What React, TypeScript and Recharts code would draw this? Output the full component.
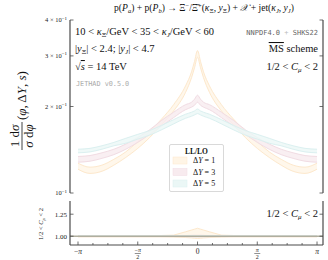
import React from "react";
import { ComposedChart, Area, XAxis, YAxis, ReferenceLine } from "recharts";

const SERIF = "'Liberation Serif', 'DejaVu Serif', serif";
const MONO = "'DejaVu Sans Mono', 'Liberation Mono', monospace";

// azimuthal angle, in units of pi
const phiOverPi = [-1, -0.9, -0.8, -0.7, -0.6, -0.5, -0.4, -0.3, -0.2, -0.1, -0.05, -0.025, 0, 0.025, 0.05, 0.1, 0.2, 0.3, 0.4, 0.5, 0.6, 0.7, 0.8, 0.9, 1];

// LL/LO bands (scale variation)
const dy1Low = [0.121, 0.117, 0.119, 0.125, 0.133, 0.143, 0.156, 0.173, 0.193, 0.224, 0.252, 0.273, 0.297, 0.273, 0.252, 0.224, 0.193, 0.173, 0.156, 0.143, 0.133, 0.125, 0.119, 0.117, 0.121];
const dy1High = [0.127, 0.123, 0.125, 0.131, 0.139, 0.151, 0.164, 0.181, 0.203, 0.236, 0.264, 0.287, 0.313, 0.287, 0.264, 0.236, 0.203, 0.181, 0.164, 0.151, 0.139, 0.131, 0.125, 0.123, 0.127];
const dy3Low = [0.128, 0.129, 0.132, 0.136, 0.142, 0.150, 0.160, 0.171, 0.183, 0.195, 0.199, 0.202, 0.207, 0.202, 0.199, 0.195, 0.183, 0.171, 0.160, 0.150, 0.142, 0.136, 0.132, 0.129, 0.128];
const dy3High = [0.134, 0.135, 0.138, 0.142, 0.148, 0.156, 0.166, 0.179, 0.191, 0.203, 0.207, 0.212, 0.219, 0.212, 0.207, 0.203, 0.191, 0.179, 0.166, 0.156, 0.148, 0.142, 0.138, 0.135, 0.134];
const dy5Low = [0.138, 0.139, 0.142, 0.146, 0.149, 0.154, 0.159, 0.166, 0.174, 0.182, 0.185, 0.187, 0.189, 0.187, 0.185, 0.182, 0.174, 0.166, 0.159, 0.154, 0.149, 0.146, 0.142, 0.139, 0.138];
const dy5High = [0.142, 0.143, 0.146, 0.150, 0.155, 0.160, 0.165, 0.172, 0.180, 0.188, 0.191, 0.193, 0.196, 0.193, 0.191, 0.188, 0.180, 0.172, 0.165, 0.160, 0.155, 0.150, 0.146, 0.143, 0.142];

// ratio panel bands
const r1Low = [0.992, 0.992, 0.992, 0.992, 0.992, 0.992, 0.992, 0.992, 0.99, 0.985, 0.98, 0.977, 0.975, 0.977, 0.98, 0.985, 0.99, 0.992, 0.992, 0.992, 0.992, 0.992, 0.992, 0.992, 0.992];
const r1High = [1.008, 1.008, 1.008, 1.008, 1.008, 1.008, 1.008, 1.008, 1.012, 1.05, 1.07, 1.08, 1.09, 1.08, 1.07, 1.05, 1.012, 1.008, 1.008, 1.008, 1.008, 1.008, 1.008, 1.008, 1.008];
const r3Low = [0.995, 0.995, 0.995, 0.995, 0.995, 0.995, 0.995, 0.995, 0.995, 0.994, 0.993, 0.992, 0.992, 0.992, 0.993, 0.994, 0.995, 0.995, 0.995, 0.995, 0.995, 0.995, 0.995, 0.995, 0.995];
const r3High = [1.005, 1.005, 1.005, 1.005, 1.005, 1.005, 1.005, 1.005, 1.005, 1.007, 1.009, 1.01, 1.01, 1.01, 1.009, 1.007, 1.005, 1.005, 1.005, 1.005, 1.005, 1.005, 1.005, 1.005, 1.005];
const r5Low = [0.996, 0.996, 0.996, 0.996, 0.996, 0.996, 0.996, 0.996, 0.996, 0.996, 0.995, 0.995, 0.995, 0.995, 0.995, 0.996, 0.996, 0.996, 0.996, 0.996, 0.996, 0.996, 0.996, 0.996, 0.996];
const r5High = [1.004, 1.004, 1.004, 1.004, 1.004, 1.004, 1.004, 1.004, 1.004, 1.005, 1.006, 1.006, 1.006, 1.006, 1.006, 1.005, 1.004, 1.004, 1.004, 1.004, 1.004, 1.004, 1.004, 1.004, 1.004];

const xTicks = [-1, -0.875, -0.75, -0.625, -0.5, -0.375, -0.25, -0.125, 0, 0.125, 0.25, 0.375, 0.5, 0.625, 0.75, 0.875, 1];
const yTicksMain = [0.1, 0.2, 0.3, 0.4];
const yTickMainLabels = ["", "2", "3", "4"];
const yTicksRatio = [1, 1.25];
const yTickRatioLabels = ["1.00", "1.25"];

const legendLabels = ["1", "3", "5"];
const bandStroke = ["#fde8cc", "#f1dce3", "#dbf0f0"];
const bandFill = ["#fff5e6", "#f8ebef", "#ebf7f6"];

const rows = phiOverPi.map((p, i) => ({
  phi: p,
  a: [dy1Low[i], dy1High[i]],
  b: [dy3Low[i], dy3High[i]],
  c: [dy5Low[i], dy5High[i]],
  ra: [r1Low[i], r1High[i]],
  rb: [r3Low[i], r3High[i]],
  rc: [r5Low[i], r5High[i]],
}));

const X_DOMAIN = [-1.067, 1.05];
const FRAME = "#4a4a4a";

const isMajor = (v: number) => Math.abs(v * 2 - Math.round(v * 2)) < 1e-6;

function BottomTick(props: any) {
  const { x, y, payload, showLabel } = props;
  const v = payload.value;
  const major = isMajor(v);
  const len = major ? 3.5 : 2;
  let label: React.ReactNode = null;
  if (showLabel && major) {
    const s = { fontFamily: SERIF, fontSize: 7.5, fill: "#222" } as const;
    if (v === 0) label = <text x={x} y={y + 9} textAnchor="middle" {...s}>0</text>;
    else if (Math.abs(v) === 1)
      label = <text x={x} y={y + 9} textAnchor="middle" {...s}>{v < 0 ? "−" : ""}<tspan fontStyle="italic">π</tspan></text>;
    else
      label = (
        <g>
          <text x={x} y={y + 7} textAnchor="middle" {...s} fontSize={6}>{v < 0 ? "−" : ""}<tspan fontStyle="italic">π</tspan></text>
          <line x1={x - 3} x2={x + 3} y1={y + 8.5} y2={y + 8.5} stroke="#222" strokeWidth={0.5} />
          <text x={x} y={y + 14} textAnchor="middle" {...s} fontSize={6}>2</text>
        </g>
      );
  }
  return (
    <g>
      <line x1={x} x2={x} y1={y} y2={y - len} stroke={FRAME} strokeWidth={0.8} />
      {label}
    </g>
  );
}

function TopTick(props: any) {
  const { x, y, payload } = props;
  const len = isMajor(payload.value) ? 3.5 : 2;
  return <line x1={x} x2={x} y1={y} y2={y + len} stroke={FRAME} strokeWidth={0.8} />;
}

function LeftTickMain(props: any) {
  const { x, y, payload } = props;
  const i = yTicksMain.indexOf(payload.value);
  const m = yTickMainLabels[i];
  return (
    <g>
      <line x1={x} x2={x + 3.5} y1={y} y2={y} stroke={FRAME} strokeWidth={0.8} />
      <text x={x - 3} y={y + 2} textAnchor="end" fontFamily={SERIF} fontSize={6.5} fill="#222">
        {m ? `${m} × 10` : "10"}
        <tspan dy={-2.5} fontSize={5}>−1</tspan>
      </text>
    </g>
  );
}

function LeftTickRatio(props: any) {
  const { x, y, payload } = props;
  const i = yTicksRatio.indexOf(payload.value);
  return (
    <g>
      <line x1={x} x2={x + 3.5} y1={y} y2={y} stroke={FRAME} strokeWidth={0.8} />
      <text x={x - 3} y={y + 2.3} textAnchor="end" fontFamily={SERIF} fontSize={7} fill="#222">
        {yTickRatioLabels[i]}
      </text>
    </g>
  );
}

function RightTick(props: any) {
  const { x, y } = props;
  return <line x1={x} x2={x - 3.5} y1={y} y2={y} stroke={FRAME} strokeWidth={0.8} />;
}

const axisCommon = { tickSize: 0, tickMargin: 0, tickLine: false, interval: 0 as const, axisLine: { stroke: FRAME, strokeWidth: 1.2 } };

export default function App() {
  const keys = ["a", "b", "c"];
  const rkeys = ["ra", "rb", "rc"];
  return (
    <div style={{ position: "absolute", left: 0, top: 0, width: 328, height: 260, background: "#fff" }}>
      <div style={{ position: "absolute", left: 0, top: 0 }}>
        <ComposedChart width={328} height={196} data={rows} margin={{ top: 20, right: 0, bottom: 3, left: 0 }}>
          <XAxis dataKey="phi" type="number" domain={X_DOMAIN} ticks={xTicks} height={0} allowDataOverflow
            {...axisCommon} tick={(p: any) => <BottomTick {...p} showLabel={false} />} />
          <XAxis xAxisId="t" orientation="top" type="number" domain={X_DOMAIN} ticks={xTicks} height={0} allowDataOverflow
            {...axisCommon} tick={TopTick} />
          <YAxis scale="log" type="number" domain={[0.1, 0.4]} ticks={yTicksMain} width={70} allowDataOverflow
            {...axisCommon} tick={LeftTickMain} />
          <YAxis yAxisId="r" orientation="right" scale="log" type="number" domain={[0.1, 0.4]} ticks={yTicksMain} width={5} allowDataOverflow
            {...axisCommon} tick={RightTick} />
          {keys.map((k, i) => (
            <Area key={k} dataKey={k} type="monotone" stroke={bandStroke[i]} strokeWidth={1} fill={bandFill[i]} fillOpacity={0.8} isAnimationActive={false} />
          ))}
        </ComposedChart>
      </div>
      <div style={{ position: "absolute", left: 0, top: 196 }}>
        <ComposedChart width={328} height={64} data={rows} margin={{ top: 5, right: 0, bottom: 0, left: 0 }}>
          <XAxis dataKey="phi" type="number" domain={X_DOMAIN} ticks={xTicks} height={15} allowDataOverflow
            {...axisCommon} tick={(p: any) => <BottomTick {...p} showLabel />} />
          <XAxis xAxisId="t" orientation="top" type="number" domain={X_DOMAIN} ticks={xTicks} height={0} allowDataOverflow
            {...axisCommon} tick={TopTick} />
          <YAxis type="number" domain={[0.9, 1.4]} ticks={yTicksRatio} width={70} allowDataOverflow
            {...axisCommon} tick={LeftTickRatio} />
          <YAxis yAxisId="r" orientation="right" type="number" domain={[0.9, 1.4]} ticks={yTicksRatio} width={5} allowDataOverflow
            {...axisCommon} tick={RightTick} />
          {rkeys.map((k, i) => (
            <Area key={k} dataKey={k} type="linear" stroke={bandStroke[i]} strokeWidth={1} fill={bandFill[i]} fillOpacity={0.8} isAnimationActive={false} />
          ))}
          <ReferenceLine y={1} stroke="#b0ae9e" strokeWidth={1.6} />
        </ComposedChart>
      </div>
      <svg width={328} height={260} style={{ position: "absolute", left: 0, top: 0, pointerEvents: "none" }}>
        <g fontFamily={SERIF} fill="#111">
          <text x={204} y={11} textAnchor="middle" fontSize={9.6}>
            p(<tspan fontStyle="italic">P</tspan><tspan fontSize={6.5} dy={2} fontStyle="italic">a</tspan>
            <tspan dy={-2}>) + p(</tspan><tspan fontStyle="italic">P</tspan><tspan fontSize={6.5} dy={2} fontStyle="italic">b</tspan>
            <tspan dy={-2}>) → Ξ</tspan><tspan fontSize={6.5} dy={-3}>−</tspan>
            <tspan dy={3}>/Ξ̄</tspan><tspan fontSize={6.5} dy={-3}>+</tspan>
            <tspan dy={3}>(</tspan><tspan fontStyle="italic">κ</tspan><tspan fontSize={6.5} dy={2}>Ξ</tspan>
            <tspan dy={-2}>, </tspan><tspan fontStyle="italic">y</tspan><tspan fontSize={6.5} dy={2}>Ξ</tspan>
            <tspan dy={-2}>) + </tspan><tspan fontStyle="italic">𝒳</tspan><tspan> + jet(</tspan>
            <tspan fontStyle="italic">κ</tspan><tspan fontSize={6.5} dy={2} fontStyle="italic">J</tspan>
            <tspan dy={-2}>, </tspan><tspan fontStyle="italic">y</tspan><tspan fontSize={6.5} dy={2} fontStyle="italic">J</tspan>
            <tspan dy={-2}>)</tspan>
          </text>

          <text x={75} y={35} fontSize={10.5}>
            10 &lt; <tspan fontStyle="italic">κ</tspan><tspan fontSize={7} dy={2}>Ξ</tspan>
            <tspan dy={-2}>/GeV &lt; 35 &lt; </tspan><tspan fontStyle="italic">κ</tspan><tspan fontSize={7} dy={2} fontStyle="italic">J</tspan>
            <tspan dy={-2}>/GeV &lt; 60</tspan>
          </text>
          <text x={75} y={52} fontSize={10.5}>
            |<tspan fontStyle="italic">y</tspan><tspan fontSize={7} dy={2}>Ξ</tspan>
            <tspan dy={-2}>| &lt; 2.4;  |</tspan><tspan fontStyle="italic">y</tspan><tspan fontSize={7} dy={2} fontStyle="italic">J</tspan>
            <tspan dy={-2}>| &lt; 4.7</tspan>
          </text>
          <text x={75} y={70} fontSize={10.5}>
            √<tspan textDecoration="overline" fontStyle="italic">s</tspan> = 14 TeV
          </text>
          <text x={76} y={86} fontSize={6.8} fontFamily={MONO} fill="#aaa">JETHAD v0.5.0</text>

          <text x={318} y={35} textAnchor="end" fontSize={7} fontFamily={MONO} fill="#666">
            NNPDF4.0 <tspan fill="#bbb">+</tspan> SHKS22
          </text>
          <text x={318} y={52} textAnchor="end" fontSize={10.5}>
            <tspan textDecoration="overline">MS</tspan> scheme
          </text>
          <text x={318} y={70} textAnchor="end" fontSize={10.5}>
            1/2 &lt; <tspan fontStyle="italic">C</tspan><tspan fontSize={7} dy={2} fontStyle="italic">μ</tspan>
            <tspan dy={-2}> &lt; 2</tspan>
          </text>
          <text x={318} y={217} textAnchor="end" fontSize={10.5}>
            1/2 &lt; <tspan fontStyle="italic">C</tspan><tspan fontSize={7} dy={2} fontStyle="italic">μ</tspan>
            <tspan dy={-2}> &lt; 2</tspan>
          </text>

          {/* main y label */}
          <g transform="translate(22,106) rotate(-90)">
            <text x={-30} y={-3} textAnchor="middle" fontSize={13}>1 d<tspan fontStyle="italic">σ</tspan></text>
            <line x1={-44} x2={-16} y1={0} y2={0} stroke="#111" strokeWidth={0.8} />
            <text x={-30} y={11} textAnchor="middle" fontSize={13}><tspan fontStyle="italic">σ</tspan> d<tspan fontStyle="italic">φ</tspan></text>
            <text x={-14} y={4} textAnchor="start" fontSize={13}>
              (<tspan fontStyle="italic">φ</tspan>, Δ<tspan fontStyle="italic">Y</tspan>, <tspan fontStyle="italic">s</tspan>)
            </text>
          </g>
          {/* ratio y label */}
          <g transform="translate(41,224) rotate(-90)">
            <text x={0} y={2} textAnchor="middle" fontSize={6.5}>
              1/2 &lt; <tspan fontStyle="italic">C</tspan><tspan fontSize={4.5} dy={1.5} fontStyle="italic">μ</tspan>
              <tspan dy={-1.5}> &lt; 2</tspan>
            </text>
          </g>

          {/* legend */}
          <rect x={169.5} y={144.5} width={54} height={47} rx={1.5} fill="#fff" stroke="#cfcfcf" strokeWidth={0.8} />
          <text x={196.5} y={153.5} textAnchor="middle" fontSize={7.5} fontWeight="bold">LL/LO</text>
          {legendLabels.map((l, i) => (
            <g key={l}>
              <rect x={173} y={157 + i * 11.5} width={14} height={7} fill={bandFill[i]} stroke={bandStroke[i]} strokeWidth={0.5} />
              <text x={193} y={163 + i * 11.5} fontSize={8}>
                Δ<tspan fontStyle="italic">Y</tspan> = {l}
              </text>
            </g>
          ))}
        </g>
      </svg>
    </div>
  );
}
